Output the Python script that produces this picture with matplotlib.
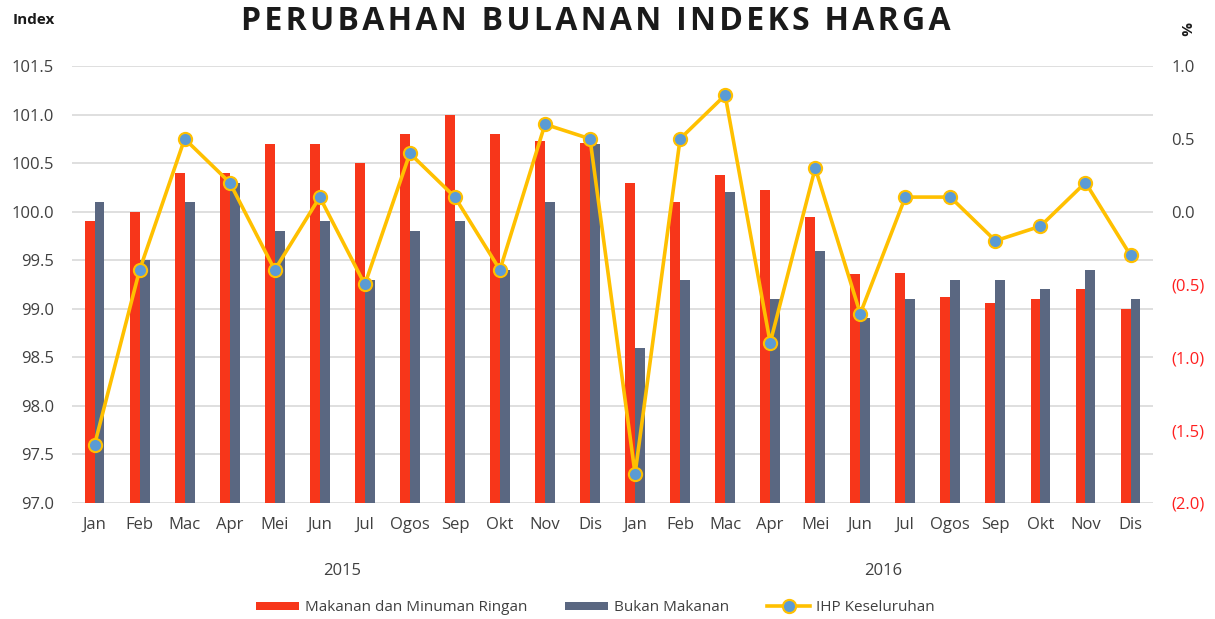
import numpy as np
import matplotlib.pyplot as plt

plt.rcParams['font.family'] = ['Open Sans', 'DejaVu Sans']

months = ['Jan', 'Feb', 'Mac', 'Apr', 'Mei', 'Jun', 'Jul', 'Ogos', 'Sep', 'Okt', 'Nov', 'Dis'] * 2
years = ['2015', '2016']

# Indeks Makanan dan Minuman Ringan
makanan = [99.9, 100.0, 100.4, 100.4, 100.7, 100.7, 100.5, 100.8, 101.0, 100.8, 100.73, 100.71,
           100.3, 100.1, 100.38, 100.22, 99.95, 99.36, 99.37, 99.12, 99.06, 99.1, 99.2, 99.0]
# Indeks Bukan Makanan
bukan_makanan = [100.1, 99.5, 100.1, 100.3, 99.8, 99.9, 99.3, 99.8, 99.9, 99.4, 100.1, 100.7,
                 98.6, 99.3, 100.2, 99.1, 99.6, 98.9, 99.1, 99.3, 99.3, 99.2, 99.4, 99.1]
# IHP keseluruhan, perubahan bulanan (%)
ihp = [-1.6, -0.4, 0.5, 0.2, -0.4, 0.1, -0.5, 0.4, 0.1, -0.4, 0.6, 0.5,
       -1.8, 0.5, 0.8, -0.9, 0.3, -0.7, 0.1, 0.1, -0.2, -0.1, 0.2, -0.3]

red = '#F7361A'
slate = '#5A6781'
yellow = '#FFC000'
blue = '#5B9BD5'
txt = '#404040'

fig = plt.figure(figsize=(12.15, 6.19), dpi=100)
ax = fig.add_axes([0.0593, 0.1874, 0.8897, 0.706])
x = np.arange(len(months))
w = 0.22

ax.bar(x - w / 2, np.array(makanan) - 97, w, bottom=97, color=red, label='Makanan dan Minuman Ringan', zorder=2)
ax.bar(x + w / 2, np.array(bukan_makanan) - 97, w, bottom=97, color=slate, label='Bukan Makanan', zorder=2)
ax.set_ylim(97.0, 101.5)
ax.set_yticks(np.arange(97.0, 101.51, 0.5))
ax.set_yticklabels([f'{v:.1f}' for v in np.arange(97.0, 101.51, 0.5)])
ax.set_xlim(-0.5, len(months) - 0.5)
ax.set_xticks(x)
ax.set_xticklabels(months)
ax.grid(axis='y', color='#D9D9D9', lw=1.2, zorder=0)
ax.set_axisbelow(True)
for s in ax.spines.values():
    s.set_visible(False)
ax.tick_params(axis='both', length=0, labelsize=12, colors=txt)
ax.tick_params(axis='y', pad=13)
ax.tick_params(axis='x', pad=10)

ax2 = ax.twinx()
ax2.plot(x, ihp, color=yellow, lw=2.6, marker='o', ms=9.5, mfc=blue, mec=yellow, mew=1.5,
         label='IHP Keseluruhan', zorder=3)
ax2.set_ylim(-2.0, 1.0)
rt = np.arange(-2.0, 1.01, 0.5)
ax2.set_yticks(rt)
ax2.set_yticklabels([f'({abs(v):.1f})' if v < 0 else f'{v:.1f}' for v in rt])
for lbl, v in zip(ax2.get_yticklabels(), rt):
    lbl.set_color('#FF1F1F' if v < 0 else txt)
for s in ax2.spines.values():
    s.set_visible(False)
ax2.tick_params(axis='y', length=0, labelsize=12, pad=13)

for i, yr in enumerate(years):
    ax.text(5.5 + 12 * i, -0.155, yr, transform=ax.get_xaxis_transform(), ha='center', va='center',
            fontsize=12, color=txt)

title = 'PERUBAHAN BULANAN INDEKS HARGA'
spaced = '\u200a \u200a'.join('\u200a'.join(word) for word in title.split(' '))
fig.text(0.49, 0.965, spaced, ha='center', va='center', fontsize=23, fontweight='bold',
         color='#1A1A1A', family=['Open Sans', 'DejaVu Sans'])
fig.text(0.01, 0.967, 'Index', ha='left', va='center', fontsize=11, fontweight='bold', color='#1A1A1A')
fig.text(0.975, 0.953, '%', ha='center', va='center', fontsize=11, fontweight='bold', color='#1A1A1A', rotation=270)

h1, l1 = ax.get_legend_handles_labels()
h2, l2 = ax2.get_legend_handles_labels()
fig.legend(h1 + h2, l1 + l2, loc='center', bbox_to_anchor=(0.49, 0.018), ncol=3, frameon=False,
           fontsize=11, handlelength=2.8, handleheight=0.5, columnspacing=2.5, handletextpad=0.4,
           labelcolor=txt)

fig.savefig('out.png', dpi=100)
